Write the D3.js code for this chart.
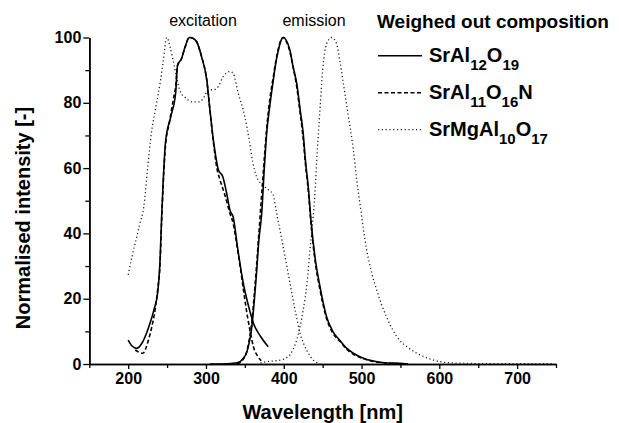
<!DOCTYPE html>
<html>
<head>
<meta charset="utf-8">
<script src="https://cdn.jsdelivr.net/npm/d3@7"></script>
<style>
  body { margin: 0; background: #fff; }
  text { font-family: "Liberation Sans", Arial, sans-serif; }
</style>
</head>
<body>
<script>
// data: [wavelength nm, normalised intensity]
var srAl12Ex = [[200,7.3],[205,5.5],[211,4.8],[218,6.5],[226,11],[233,16.5],[238,22],[241,32],[243,45],[245,56],[248,68],[255,76],[261,83],[263.5,91.5],[268.5,93.5],[273,97],[278.6,100],[283,99.8],[288,98.7],[294.5,94],[301,87],[305,78],[309.5,68.6],[313,63],[316,59.4],[321.5,57.4],[326,53],[331,47],[335,45],[341,35],[348,24.7],[355,17.5],[361,12.5],[370,8.5],[380,5.3]];
var srAl12Em = [[305,0],[320,0],[335,0.2],[343.7,0.7],[348,1.8],[352,3.3],[356,7],[359,11.4],[362,19],[365,27.8],[368,38],[371.6,46],[375,60],[378,70.6],[382,79],[386.6,87],[390,92.5],[393,96],[396,98.8],[399.5,100],[403,99.2],[408,96],[412,91],[416.6,86],[421,78],[425,70.6],[428,62],[431.6,54],[435,44],[440,33],[446.6,23.7],[455,14.5],[463,10],[472,7.3],[480,5],[489.5,3.3],[500,2],[515,0.9],[530,0.4],[549,0.2],[560,0]];

var srAl11Ex = [[209,4.3],[214,3.6],[219,3.3],[223,5],[226,7.3],[230,11],[234.5,16.5],[238,23],[241,31],[243,44],[245,55],[248,67],[253,74],[258,81],[261,85],[263.5,91.5],[268.5,93.5],[273,97],[278.6,100],[283,99.8],[288,98.7],[294.5,94],[301,87],[305,78],[309.5,68],[314,60],[318,56.4],[324,52],[331,46],[335,43],[340,36],[344,29.8],[348,23],[352,16.5],[356,11],[361,5.3],[367,2.2],[371,1]];
var srAl11Em = [[340,0],[348,1.5],[352,3.5],[356,8],[359,13],[362,21],[365,30],[368,40],[371,50],[375,63],[378,72],[382,81],[386.6,88],[390,93],[393,96.5],[396,99],[399.5,100],[403,99],[408,95.5],[412,91],[416.6,85],[421,77],[425,69],[428,61],[431.6,53],[435,43],[440,32],[446.6,22.7],[455,14],[463,9.5],[472,7],[480,4.7],[489.5,3],[500,1.8],[515,0.8],[530,0.3],[545,0.1],[555,0]];

var srMgEx = [[200,27.3],[205,33],[210,38],[215,43],[220,48],[225,60],[230,71],[235,78],[241,86],[245,92.6],[249.5,100],[254,97],[258,92.6],[262,88],[267,83.4],[274,81.5],[282,80.3],[292,80.3],[298,82],[303,84],[310,84],[316,85],[322,88],[331,89.6],[335,89],[341,83.4],[350,75.7],[356,68],[360,62],[365,57.4],[372,55],[378,53.8],[386,52],[391,46],[400,35],[408,24.7],[415,16],[421,9.4],[430,4],[438,1.2],[447,0]];
var srMgEm = [[370,0.3],[378,0.7],[390,1],[399,1.4],[404,2],[408,2.8],[412,4.5],[416.6,7.3],[421,11.5],[425,16.5],[430,25],[433.7,35],[437,43],[440,52],[443,65],[446.6,78],[450,90],[455,98],[461.6,100],[468,98],[472,93],[476.6,86],[483,76],[489.5,65.5],[494,56],[498,49],[502,42],[506.6,35],[513,28],[519.5,22.7],[526,18],[532,14.5],[540,10.5],[549,7.3],[560,5],[571,3.3],[585,1.8],[601,0.7],[620,0.3],[635,0.2],[660,0.1],[700,0.1],[745,0.1]];

var xMajor = [200, 300, 400, 500, 600, 700];
var xMinor = [150, 250, 350, 450, 550, 650, 750];
var yMajor = [0, 20, 40, 60, 80, 100];
var yMinor = [10, 30, 50, 70, 90];

var width = 619, height = 423;

var svg = d3.select("body").append("svg")
    .attr("width", width)
    .attr("height", height);

var xScale = d3.scaleLinear().domain([150, 750]).range([89.3, 556]);
var yScale = d3.scaleLinear().domain([0, 100]).range([364, 37.5]);

// axes
var xAxis = d3.axisBottom(xScale).tickValues(xMajor).tickSize(5).tickSizeOuter(0).tickPadding(4);
var xAxisMinor = d3.axisBottom(xScale).tickValues(xMinor).tickSize(4).tickFormat("").tickSizeOuter(0);
var yAxis = d3.axisLeft(yScale).tickValues(yMajor).tickSize(6).tickSizeOuter(0).tickPadding(2);
var yAxisMinor = d3.axisLeft(yScale).tickValues(yMinor).tickSize(4).tickFormat("").tickSizeOuter(0);

var gx = svg.append("g").attr("transform", "translate(0," + yScale(0) + ")");
gx.call(xAxis);
gx.append("g").call(xAxisMinor);
var gy = svg.append("g").attr("transform", "translate(" + xScale(150) + ",0)");
gy.call(yAxis);
gy.append("g").call(yAxisMinor);

svg.selectAll(".domain").attr("stroke", "#000").attr("stroke-width", 1.6);
svg.selectAll(".tick line").attr("stroke", "#000").attr("stroke-width", 1.3);
svg.selectAll(".tick text")
    .attr("fill", "#000")
    .style("font-family", "'Liberation Sans', Arial, sans-serif")
    .style("font-size", "16px")
    .style("font-weight", "bold");

// axis titles
svg.append("text")
    .attr("x", (xScale(150) + xScale(750)) / 2)
    .attr("y", 419)
    .attr("text-anchor", "middle")
    .style("font-size", "20px")
    .style("font-weight", "bold")
    .text("Wavelength [nm]");

svg.append("text")
    .attr("transform", "translate(30," + 218 + ") rotate(-90)")
    .attr("text-anchor", "middle")
    .style("font-size", "20px")
    .style("font-weight", "bold")
    .text("Normalised intensity [-]");

svg.append("text").attr("x", 203).attr("y", 26).attr("text-anchor", "middle")
    .style("font-size", "16px").text("excitation");
svg.append("text").attr("x", 314).attr("y", 26).attr("text-anchor", "middle")
    .style("font-size", "16px").text("emission");

// curves
var line = d3.line()
    .x(function(d) { return xScale(d[0]); })
    .y(function(d) { return yScale(d[1]); })
    .curve(d3.curveMonotoneX);

var styles = {
    solid: {dash: null, w: 1.6, c: "#000"},
    dashed: {dash: "4,2.5", w: 1.6, c: "#000"},
    dotted: {dash: "1.2,2.6", w: 1.3, c: "#222"}
};

var curves = [
    {d: srMgEx, s: "dotted"}, {d: srMgEm, s: "dotted"},
    {d: srAl11Ex, s: "dashed"}, {d: srAl11Em, s: "dashed"},
    {d: srAl12Ex, s: "solid"}, {d: srAl12Em, s: "solid"}
];

svg.selectAll(".curve")
    .data(curves)
    .enter()
    .append("path")
    .attr("class", "curve")
    .attr("d", function(d) { return line(d.d); })
    .attr("fill", "none")
    .attr("stroke", function(d) { return styles[d.s].c; })
    .attr("stroke-width", function(d) { return styles[d.s].w; })
    .attr("stroke-dasharray", function(d) { return styles[d.s].dash; });

// legend
svg.append("text").attr("x", 377).attr("y", 28)
    .style("font-size", "19px").style("font-weight", "bold")
    .text("Weighed out composition");

var legendItems = [
    {s: "solid", parts: [["SrAl", 0], ["12", 1], ["O", 0], ["19", 1]]},
    {s: "dashed", parts: [["SrAl", 0], ["11", 1], ["O", 0], ["16", 1], ["N", 0]]},
    {s: "dotted", parts: [["SrMgAl", 0], ["10", 1], ["O", 0], ["17", 1]]}
];

legendItems.forEach(function(item, i) {
    var ly = 55.7 + i * 37;
    svg.append("line")
        .attr("x1", 378).attr("x2", 422)
        .attr("y1", ly).attr("y2", ly)
        .attr("stroke", styles[item.s].c)
        .attr("stroke-width", styles[item.s].w)
        .attr("stroke-dasharray", styles[item.s].dash);
    var t = svg.append("text")
        .attr("x", 429).attr("y", ly + 6)
        .style("font-size", "20px").style("font-weight", "bold");
    var sub = false;
    item.parts.forEach(function(p) {
        var dy = 0;
        if (p[1] && !sub) dy = 8.5;
        if (!p[1] && sub) dy = -8.5;
        sub = !!p[1];
        t.append("tspan")
            .attr("dy", dy)
            .style("font-size", p[1] ? "15px" : "20px")
            .text(p[0]);
    });
});
</script>
</body>
</html>
